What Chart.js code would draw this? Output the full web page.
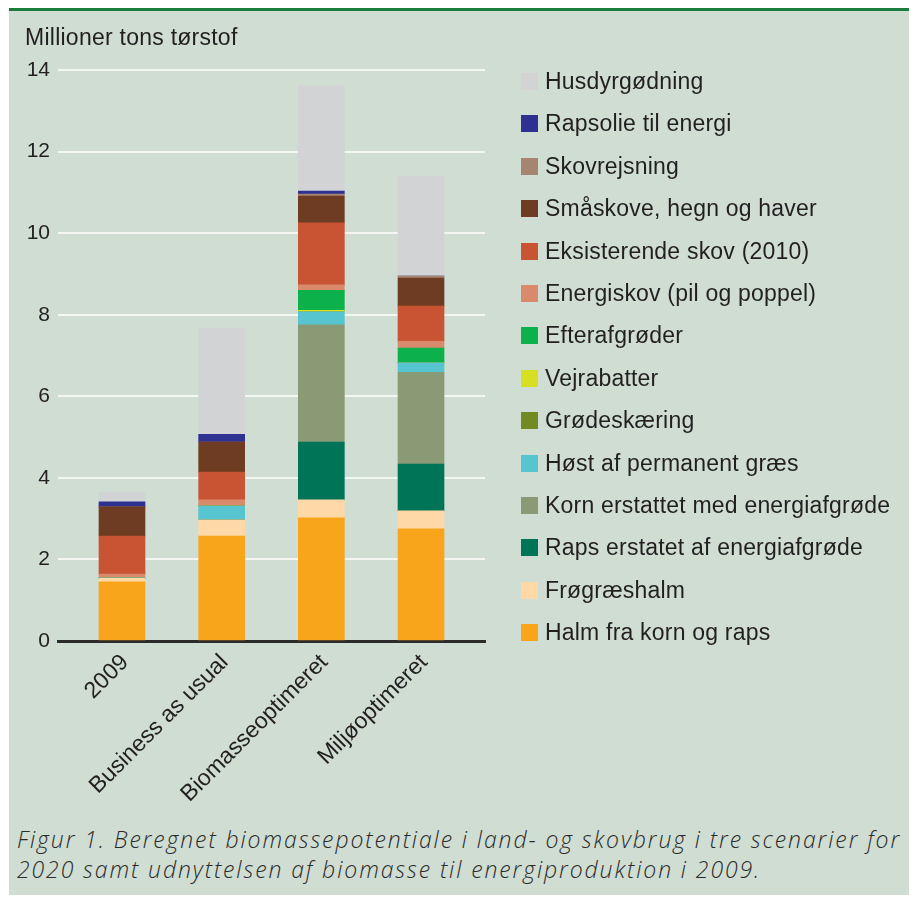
<!DOCTYPE html>
<html>
<head>
<meta charset="utf-8">
<script src="https://cdn.jsdelivr.net/npm/chart.js@4.4.0/dist/chart.umd.min.js"></script>
<style>
  body { margin: 0; background: #fff; width: 916px; height: 897px; position: relative; overflow: hidden;
         font-family: "Liberation Sans", Arial, sans-serif; color: #231f20; }
  #panel { position: absolute; left: 9px; top: 8px; width: 900px; height: 887px; background: #cfddd3;
           border-top: 3px solid #1a7d3e; box-sizing: border-box; }
  #wrap { position: absolute; left: 0; top: 0; width: 916px; height: 810px; }
  #ytitle { position: absolute; left: 25px; top: 25.5px; font-size: 23px; line-height: 23px; letter-spacing: 0.25px; white-space: nowrap; }
  #legend { position: absolute; left: 521px; top: 60.3px; }
  .item { height: 42.4px; display: flex; align-items: center; font-size: 23px; letter-spacing: 0.2px; white-space: nowrap; }
  .sw { width: 17px; height: 17px; margin-right: 7px; flex: none; }
  #caption { position: absolute; left: 17px; top: 824px; font-family: "Open Sans", sans-serif; font-weight: 300;
             font-size: 23px; line-height: 30px; font-style: italic; letter-spacing: 1.9px; white-space: nowrap; color: #2b2b2b; }
</style>
</head>
<body>
<div id="panel"></div>
<div id="wrap"><canvas id="chart" width="916" height="810"></canvas></div>
<div id="ytitle">Millioner tons tørstof</div>
<div id="legend"></div>
<div id="caption">Figur 1. Beregnet biomassepotentiale i land- og skovbrug i tre scenarier for<br>2020 samt udnyttelsen af biomasse til energiproduktion i 2009.</div>
<script>
// categories (bars) and y ticks
const categories = ["2009", "Business as usual", "Biomasseoptimeret", "Miljøoptimeret"];
const yTicks = [0, 2, 4, 6, 8, 10, 12, 14];

// values per series, million tonnes dry matter, stacked bottom -> top
const halm          = [1.45, 2.57, 3.02, 2.75];
const frogræshalm   = [0.09, 0.40, 0.44, 0.44];
const rapsErstatet  = [0, 0, 1.42, 1.15];
const kornErstattet = [0, 0, 2.87, 2.25];
const høstGræs      = [0, 0.34, 0.32, 0.23];
const grødeskæring  = [0, 0, 0, 0];
const vejrabatter   = [0, 0, 0.04, 0];
const efterafgrøder = [0, 0, 0.49, 0.36];
const energiskov    = [0.10, 0.15, 0.13, 0.17];
const eksistSkov    = [0.93, 0.68, 1.52, 0.86];
const småskove      = [0.72, 0.74, 0.66, 0.69];
const skovrejsning  = [0, 0, 0.05, 0.05];
const rapsolie      = [0.12, 0.19, 0.07, 0];
const husdyr        = [0.24, 2.60, 2.58, 2.45];

const seriesNames = [
    "Halm fra korn og raps", "Frøgræshalm", "Raps erstatet af energiafgrøde", "Korn erstattet med energiafgrøde",
    "Høst af permanent græs", "Grødeskæring", "Vejrabatter", "Efterafgrøder", "Energiskov (pil og poppel)",
    "Eksisterende skov (2010)", "Småskove, hegn og haver", "Skovrejsning", "Rapsolie til energi", "Husdyrgødning"
];
const seriesValues = [halm, frogræshalm, rapsErstatet, kornErstattet, høstGræs, grødeskæring, vejrabatter,
    efterafgrøder, energiskov, eksistSkov, småskove, skovrejsning, rapsolie, husdyr];
const seriesColors = ["#f8a51c", "#fed8a6", "#007457", "#899a75", "#56c5cf", "#728a22", "#d7df23",
    "#0db14b", "#d98a6c", "#c85434", "#6d3c22", "#a68570", "#2e3192", "#d1d3d4"];

const font = "'Liberation Sans', Arial, sans-serif";

// legend, top item = last series
const legend = document.getElementById("legend");
for (let k = seriesNames.length - 1; k >= 0; k--) {
    const row = document.createElement("div");
    row.className = "item";
    row.innerHTML = `<span class="sw" style="background:${seriesColors[k]}"></span><span>${seriesNames[k]}</span>`;
    legend.appendChild(row);
}

const ctx = document.getElementById("chart").getContext("2d");
new Chart(ctx, {
    type: "bar",
    data: {
        datasets: seriesNames.map((name, k) => ({
            label: name,
            data: seriesValues[k].map((v, i) => ({ x: i, y: v })),
            backgroundColor: seriesColors[k],
            borderWidth: 0,
            barThickness: 46
        }))
    },
    options: {
        responsive: false,
        animation: false,
        layout: { padding: { left: 0, top: 70, right: 431, bottom: 0 } },
        plugins: { legend: { display: false }, tooltip: { enabled: false } },
        scales: {
            x: {
                type: "linear",
                stacked: true,
                offset: false,
                min: -0.642,
                max: 3.642,
                grid: { display: false, offset: false },
                border: { display: true, color: "#2b2b2b", width: 3 },
                afterBuildTicks: axis => { axis.ticks = categories.map((c, i) => ({ value: i })); },
                afterFit: axis => { axis.height = 169; },
                ticks: {
                    minRotation: 45, maxRotation: 45, autoSkip: false,
                    padding: 0, labelOffset: 3,
                    color: "#231f20", font: { size: 23, family: font },
                    callback: v => categories[v]
                }
            },
            y: {
                stacked: true,
                min: 0,
                max: 14,
                afterBuildTicks: axis => { axis.ticks = yTicks.map(v => ({ value: v })); },
                afterFit: axis => { axis.width = 58; },
                grid: { color: "#f3f6f3", lineWidth: 2, drawTicks: false },
                border: { display: false },
                ticks: { padding: 8, color: "#231f20", font: { size: 21, family: font } }
            }
        }
    }
});
</script>
</body>
</html>
